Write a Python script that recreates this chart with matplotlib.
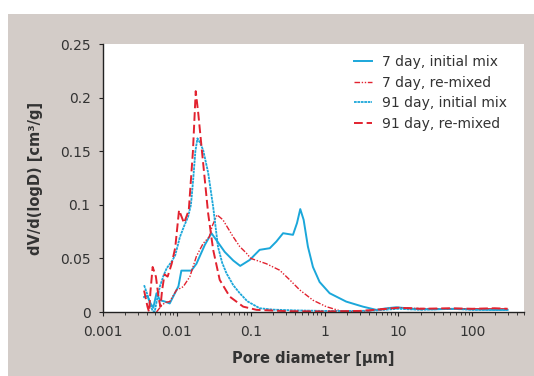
import matplotlib
matplotlib.use("Agg")
import matplotlib.pyplot as plt
from matplotlib.patches import Rectangle
from matplotlib.ticker import FixedLocator, FixedFormatter, LogLocator, NullFormatter

# ---- data (pore diameter in um, dV/dlogD in cm3/g) ----
x_7d_init = [0.0036, 0.0040, 0.0044, 0.0048, 0.0053, 0.0059, 0.0069, 0.0080, 0.0094,
             0.0105, 0.0115, 0.0120, 0.0157, 0.0184, 0.0239, 0.0294, 0.0343, 0.0445,
             0.058, 0.072, 0.097, 0.132, 0.181, 0.222, 0.274, 0.373, 0.423, 0.468,
             0.52, 0.594, 0.695, 0.855, 1.17, 1.96, 3.3, 5.0, 7.0, 9.3, 15.5, 30,
             60, 100, 200, 300]
y_7d_init = [0.014, 0.015, 0.008, 0.004, 0.0175, 0.011, 0.0097, 0.008, 0.0175,
             0.024, 0.0386, 0.0386, 0.0386, 0.045, 0.0626, 0.0735, 0.067, 0.056,
             0.048, 0.043, 0.0486, 0.058, 0.0595, 0.0657, 0.0735, 0.072, 0.083, 0.096,
             0.086, 0.061, 0.042, 0.028, 0.0175, 0.0097, 0.005, 0.002, 0.0035, 0.0044,
             0.003, 0.0025, 0.003, 0.0025, 0.002, 0.002]

x_7d_remix = [0.0053, 0.0062, 0.0070, 0.0080, 0.0099, 0.0110, 0.0122, 0.0150, 0.0184,
              0.0227, 0.0274, 0.0300, 0.0350, 0.0420, 0.058, 0.071, 0.087, 0.100,
              0.163, 0.246, 0.337, 0.46, 0.695, 1.05, 1.6, 2.5, 4.0, 6.0, 10, 15,
              30, 60, 100, 200, 300]
y_7d_remix = [0.0, 0.006, 0.009, 0.0097, 0.0206, 0.022, 0.0236, 0.033, 0.052,
              0.064, 0.070, 0.080, 0.0906, 0.086, 0.070, 0.061, 0.055, 0.050,
              0.045, 0.039, 0.030, 0.0206, 0.011, 0.005, 0.0012, 0.0005, 0.001, 0.003,
              0.004, 0.0035, 0.003, 0.003, 0.003, 0.003, 0.003]

x_91d_init = [0.0036, 0.0040, 0.0043, 0.0047, 0.0050, 0.0054, 0.0059, 0.0066, 0.0073,
              0.0085, 0.0095, 0.0110, 0.0125, 0.0142, 0.0155, 0.0166, 0.0178, 0.0190,
              0.0205, 0.0227, 0.0265, 0.031, 0.036, 0.041, 0.047, 0.058, 0.071, 0.090,
              0.132, 0.2, 0.4, 1.0, 3.0, 5.0, 10, 20, 50, 100, 300]
y_91d_init = [0.025, 0.016, 0.008, 0.001, 0.0, 0.012, 0.024, 0.034, 0.041,
              0.047, 0.053, 0.070, 0.080, 0.089, 0.100, 0.123, 0.150, 0.162,
              0.158, 0.151, 0.130, 0.098, 0.061, 0.046, 0.036, 0.025, 0.0175, 0.010,
              0.0035, 0.0022, 0.0015, 0.001, 0.001, 0.0015, 0.003, 0.002, 0.003, 0.002, 0.002]

x_91d_remix = [0.0036, 0.0040, 0.0042, 0.0044, 0.0047, 0.0052, 0.0057, 0.0060, 0.0063,
               0.0068, 0.0075, 0.0085, 0.0095, 0.0107, 0.0125, 0.0145, 0.0165, 0.0180,
               0.0195, 0.0215, 0.0265, 0.031, 0.038, 0.052, 0.079, 0.12, 0.3, 1.0,
               3.0, 6.0, 10, 20, 50, 100, 200, 300]
y_91d_remix = [0.020, 0.005, 0.0, 0.020, 0.042, 0.033, 0.012, 0.005, 0.020,
               0.035, 0.033, 0.045, 0.060, 0.095, 0.083, 0.095, 0.150, 0.206,
               0.185, 0.155, 0.092, 0.058, 0.030, 0.0143, 0.005, 0.002, 0.0008, 0.0005,
               0.001, 0.0025, 0.004, 0.003, 0.0035, 0.003, 0.0035, 0.003]

x_ticks = [0.001, 0.01, 0.1, 1, 10, 100]
x_tick_labels = ["0.001", "0.01", "0.1", "1", "10", "100"]
y_ticks = [0, 0.05, 0.1, 0.15, 0.2, 0.25]
y_tick_labels = ["0", "0.05", "0.1", "0.15", "0.2", "0.25"]

BLUE = "#1ba7da"
RED = "#e2222f"
PANEL = "#d3ccc8"
TXT = "#333333"

W, H = 534, 376
fig = plt.figure(figsize=(W / 100, H / 100), dpi=100)
fig.patch.set_facecolor("white")
fig.add_artist(Rectangle((8 / W, 0), 1, (H - 14) / H, transform=fig.transFigure,
                         facecolor=PANEL, edgecolor="none", zorder=-10))

ax = fig.add_axes([103 / W, 64 / H, 421 / W, 268 / H])
ax.set_facecolor("white")

ax.plot(x_7d_init, y_7d_init, color=BLUE, lw=1.4, label="7 day, initial mix")
ax.plot(x_7d_remix, y_7d_remix, color=RED, lw=1.0, ls=(0, (4, 1.2, 1, 1.2, 1, 1.2)),
        label="7 day, re-mixed")
ax.plot(x_91d_init, y_91d_init, color=BLUE, lw=1.3, ls=(0, (1.5, 0.4)),
        label="91 day, initial mix")
ax.plot(x_91d_remix, y_91d_remix, color=RED, lw=1.4, ls=(0, (4.5, 2)),
        label="91 day, re-mixed")

ax.set_xscale("log")
ax.set_xlim(0.001, 500)
ax.set_ylim(0, 0.25)
ax.xaxis.set_major_locator(FixedLocator(x_ticks))
ax.xaxis.set_major_formatter(FixedFormatter(x_tick_labels))
ax.xaxis.set_minor_locator(LogLocator(base=10, subs=range(2, 10)))
ax.xaxis.set_minor_formatter(NullFormatter())
ax.yaxis.set_major_locator(FixedLocator(y_ticks))
ax.yaxis.set_major_formatter(FixedFormatter(y_tick_labels))

for s in ("top", "right"):
    ax.spines[s].set_visible(False)
for s in ("left", "bottom"):
    ax.spines[s].set_color("#222222")
    ax.spines[s].set_linewidth(1.0)
ax.tick_params(axis="both", which="major", direction="out", length=3, width=0.8,
               colors="#222222", labelcolor=TXT, labelsize=10, pad=6)
ax.tick_params(axis="x", which="minor", direction="out", length=2, width=0.6,
               colors="#222222")

ax.set_xlabel("Pore diameter [µm]", fontsize=10.5, fontweight="bold", color=TXT,
              labelpad=9)
ax.set_ylabel("dV/d(logD) [cm³/g]", fontsize=10.5, fontweight="bold", color=TXT,
              labelpad=12)

ax.legend(loc="upper left", bbox_to_anchor=(354 / W, 1 - 55 / H),
          bbox_transform=fig.transFigure, frameon=False, fontsize=10,
          handlelength=1.3, handletextpad=0.7, labelspacing=0.48,
          labelcolor=TXT, borderaxespad=0, borderpad=0)

fig.savefig("out.png", dpi=100)
